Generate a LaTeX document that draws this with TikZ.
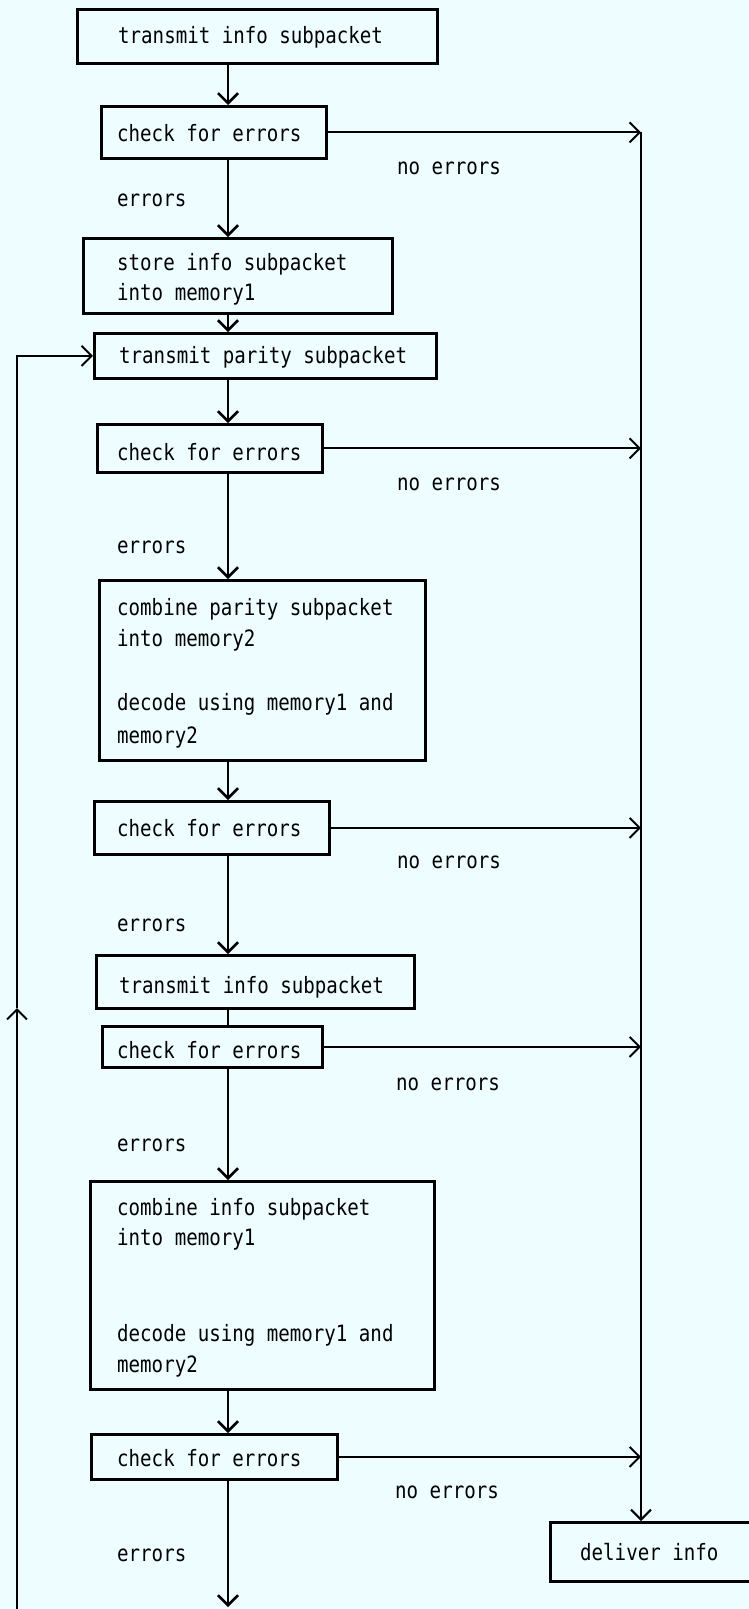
\documentclass[tikz,border=0pt]{standalone}
\usepackage{fontspec}
\newfontfamily\plotfont[FakeStretch=0.85]{DejaVu Sans Mono}
\usetikzlibrary{arrows.meta}
\definecolor{paper}{RGB}{238,253,255}
\begin{document}
\begin{tikzpicture}[x=1pt,y=-1pt,
  box/.style={draw, line width=2.8pt, inner sep=0pt, anchor=north west},
  txt/.style={anchor=base west, inner sep=0pt, font=\plotfont\fontsize{22.5}{28}\selectfont},
  flow/.style={line width=2.6pt, -{Straight Barb[length=10pt,width=20pt]}},
  side/.style={line width=2pt, -{Straight Barb[length=10pt,width=20pt]}},
  plain/.style={line width=2.6pt}
]
\fill[paper] (0,0) rectangle (749,1609);
\useasboundingbox (0,0) rectangle (749,1609);

% boxes
\node[box, minimum width=360pt, minimum height=54pt] (b1) at (76,8) {};
\node[box, minimum width=225pt, minimum height=52pt] (b2) at (100,105) {};
\node[box, minimum width=309pt, minimum height=75pt] (b3) at (82,237) {};
\node[box, minimum width=342pt, minimum height=45pt] (b4) at (93,332) {};
\node[box, minimum width=225pt, minimum height=48pt] (b5) at (96,423) {};
\node[box, minimum width=326pt, minimum height=180pt] (b6) at (98,579) {};
\node[box, minimum width=235pt, minimum height=53pt] (b7) at (93,800) {};
\node[box, minimum width=318pt, minimum height=53pt] (b8) at (95,954) {};
\node[box, minimum width=220pt, minimum height=41pt] (b9) at (101,1025) {};
\node[box, minimum width=344pt, minimum height=208pt] (b10) at (89,1180) {};
\node[box, minimum width=246pt, minimum height=45pt] (b11) at (90,1433) {};
\node[box, minimum width=220pt, minimum height=59pt] (b12) at (549,1521) {};

% texts (baselines)
\node[txt] (t1) at (118,43) {transmit info subpacket};
\node[txt] (t2) at (117,141) {check for errors};
\node[txt] (n1) at (397,174) {no errors};
\node[txt] (e1) at (117,206) {errors};
\node[txt] (t3a) at (117,270) {store info subpacket};
\node[txt] (t3b) at (117,300) {into memory1};
\node[txt] (t4) at (119,363) {transmit parity subpacket};
\node[txt] (t5) at (117,460) {check for errors};
\node[txt] (n2) at (397,490) {no errors};
\node[txt] (e2) at (117,553) {errors};
\node[txt] (t6a) at (117,615) {combine parity subpacket};
\node[txt] (t6b) at (117,646) {into memory2};
\node[txt] (t6c) at (117,710) {decode using memory1 and};
\node[txt] (t6d) at (117,743) {memory2};
\node[txt] (t7) at (117,836) {check for errors};
\node[txt] (n3) at (397,868) {no errors};
\node[txt] (e3) at (117,931) {errors};
\node[txt] (t8) at (119,993) {transmit info subpacket};
\node[txt] (t9) at (117,1058) {check for errors};
\node[txt] (n4) at (396,1090) {no errors};
\node[txt] (e4) at (117,1151) {errors};
\node[txt] (t10a) at (117,1215) {combine info subpacket};
\node[txt] (t10b) at (117,1245) {into memory1};
\node[txt] (t10c) at (117,1341) {decode using memory1 and};
\node[txt] (t10d) at (117,1372) {memory2};
\node[txt] (t11) at (117,1466) {check for errors};
\node[txt] (n5) at (395,1498) {no errors};
\node[txt] (e5) at (117,1561) {errors};
\node[txt] (t12) at (580,1560) {deliver info};

% helper coordinates
\coordinate (cx) at (228,0);
\coordinate (rx) at (641,0);
\coordinate (lb) at (17,1609);
\coordinate (lm) at (17,1008);
\coordinate (bot) at (228,1607);

% main column
\draw[flow] (b1.south -| cx) -- (b2.north -| cx);
\draw[flow] (b2.south -| cx) -- (b3.north -| cx);
\draw[flow] (b3.south -| cx) -- (b4.north -| cx);
\draw[flow] (b4.south -| cx) -- (b5.north -| cx);
\draw[flow] (b5.south -| cx) -- (b6.north -| cx);
\draw[flow] (b6.south -| cx) -- (b7.north -| cx);
\draw[flow] (b7.south -| cx) -- (b8.north -| cx);
\draw[plain] (b8.south -| cx) -- (b9.north -| cx);
\draw[flow] (b9.south -| cx) -- (b10.north -| cx);
\draw[flow] (b10.south -| cx) -- (b11.north -| cx);
\draw[flow] (b11.south -| cx) -- (bot);

% no-error branches
\draw[side] (b2.east) -- (b2.east -| rx);
\draw[side] (b5.east) -- (b5.east -| rx);
\draw[side] (b7.east) -- (b7.east -| rx);
\draw[side] (b9.east) -- (b9.east -| rx);
\draw[side] (b11.east) -- (b11.east -| rx);
\draw[side] (b2.east -| rx) -- (b12.north -| rx);

% loop back
\draw[side] (lb) -- (lm);
\draw[side] (lm) -- (b4.west -| lm) -- (b4.west);
\end{tikzpicture}
\end{document}
